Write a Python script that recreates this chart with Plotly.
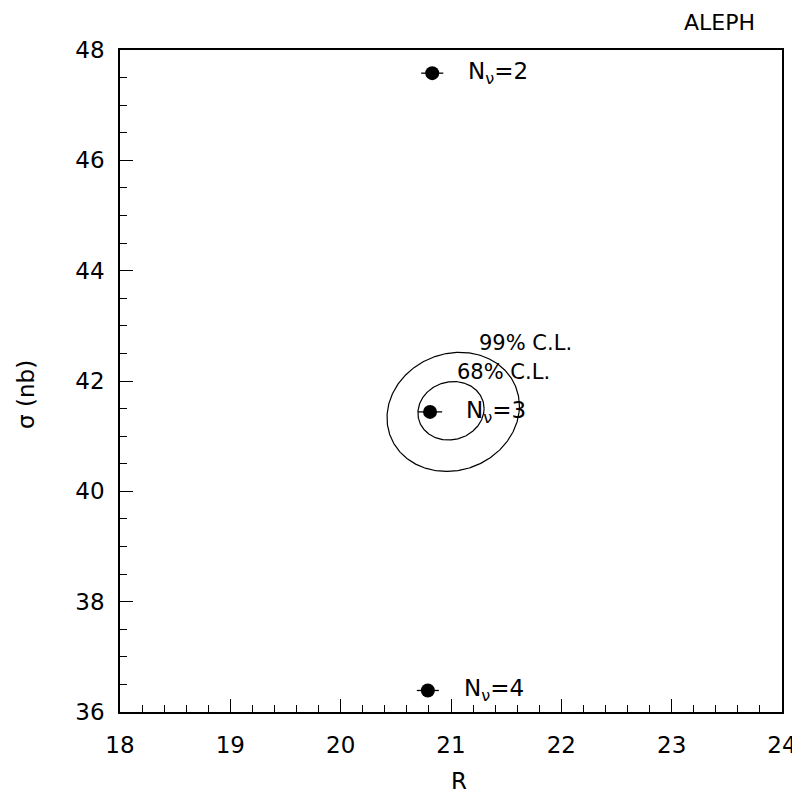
import numpy as np
import plotly.graph_objects as go

# Data
nu_labels = ["N<sub>ν</sub>=2", "N<sub>ν</sub>=3", "N<sub>ν</sub>=4"]
R_vals = [20.83, 20.81, 20.79]
sigma_vals = [47.58, 41.44, 36.39]
R_err = [0.10, 0.11, 0.10]

# Confidence ellipses: centre R, centre sigma, half-width R, half-height sigma, correlation
cl_labels = ["68% C.L.", "99% C.L."]
cl_cR = [21.00, 21.02]
cl_cS = [41.46, 41.44]
cl_wR = [0.30, 0.60]
cl_wS = [0.53, 1.08]
cl_rho = [0.08, 0.10]

x_ticks = [18, 19, 20, 21, 22, 23, 24]
y_ticks = [36, 38, 40, 42, 44, 46, 48]

FONT = "DejaVu Sans, Verdana, sans-serif"
fig = go.Figure()

t = np.linspace(0, 2 * np.pi, 361)
for cR, cS, wR, wS, rho in zip(cl_cR, cl_cS, cl_wR, cl_wS, cl_rho):
    xs = cR + wR * np.cos(t)
    ys = cS + wS * (rho * np.cos(t) + np.sqrt(1 - rho ** 2) * np.sin(t))
    fig.add_trace(go.Scatter(x=xs, y=ys, mode="lines",
                             line=dict(color="black", width=1.2),
                             showlegend=False, hoverinfo="skip"))

fig.add_trace(go.Scatter(
    x=R_vals, y=sigma_vals, mode="markers",
    marker=dict(color="black", size=14),
    error_x=dict(type="data", array=R_err, color="black", thickness=1.3, width=0),
    showlegend=False))

# point labels
for r, s, lab in zip(R_vals, sigma_vals, nu_labels):
    fig.add_annotation(x=r + 0.31, y=s, text=lab, showarrow=False,
                       xanchor="left", yanchor="middle",
                       font=dict(size=23, family=FONT, color="black"))

fig.add_annotation(x=21.04, y=42.16, text=cl_labels[0], showarrow=False,
                   xanchor="left", yanchor="middle",
                   font=dict(size=21, family=FONT, color="black"))
fig.add_annotation(x=21.24, y=42.69, text=cl_labels[1], showarrow=False,
                   xanchor="left", yanchor="middle",
                   font=dict(size=21, family=FONT, color="black"))

fig.add_annotation(x=0.962, y=1.042, xref="paper", yref="paper",
                   text="ALEPH", showarrow=False, xanchor="right", yanchor="middle",
                   font=dict(size=22, family=FONT, color="black"))

# axis titles
fig.add_annotation(x=0.512, y=-0.104, xref="paper", yref="paper",
                   text="R", showarrow=False, xanchor="center", yanchor="middle",
                   font=dict(size=23, family=FONT, color="black"))
fig.add_annotation(x=-0.141, y=0.48, xref="paper", yref="paper",
                   text="σ (nb)", showarrow=False, textangle=-90,
                   xanchor="center", yanchor="middle",
                   font=dict(size=23, family=FONT, color="black"))

fig.update_layout(
    width=800, height=797,
    margin=dict(l=112, r=26, t=42, b=93),
    paper_bgcolor="white", plot_bgcolor="white",
    font=dict(family=FONT, size=23, color="black"),
    xaxis=dict(range=[18, 24], tickvals=x_ticks, ticks="inside", ticklen=13,
               tickwidth=1.3, tickcolor="black", showgrid=False, zeroline=False,
               showline=True, linecolor="black", linewidth=1.5, mirror=True,
               minor=dict(dtick=0.2, ticks="inside", ticklen=7, tickcolor="black", tickwidth=1.2),
               tickfont=dict(size=23), ticklabelstandoff=12, automargin=False),
    yaxis=dict(range=[36, 48], tickvals=y_ticks, ticks="inside", ticklen=13,
               tickwidth=1.3, tickcolor="black", showgrid=False, zeroline=False,
               showline=True, linecolor="black", linewidth=1.5, mirror=True,
               minor=dict(dtick=0.5, ticks="inside", ticklen=7, tickcolor="black", tickwidth=1.2),
               tickfont=dict(size=23), ticklabelstandoff=9, automargin=False),
)

fig.write_html("out.html")
